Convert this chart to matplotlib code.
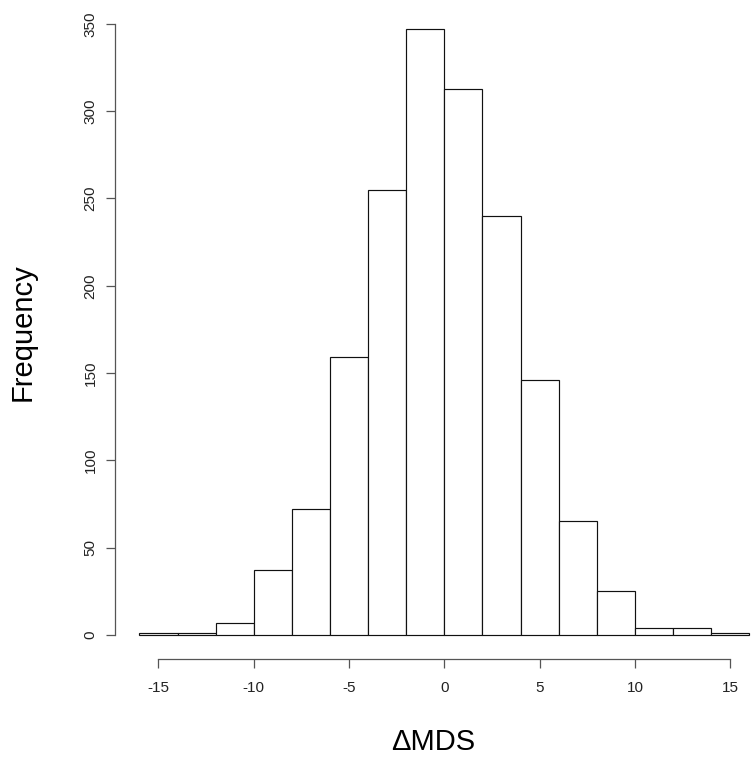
import numpy as np
import matplotlib.pyplot as plt

plt.rcParams['font.family'] = ['Liberation Sans', 'DejaVu Sans']

# histogram of delta MDS, bins of width 2 from -16 to 16
bin_edges = np.arange(-16, 17, 2)
counts = [1, 1, 7, 37, 72, 159, 255, 347, 313, 240, 146, 65, 25, 4, 4, 1]
xticks = [-15, -10, -5, 0, 5, 10, 15]
yticks = [0, 50, 100, 150, 200, 250, 300, 350]

fig = plt.figure(figsize=(7.52, 7.61), dpi=100)
ax = fig.add_axes([115 / 752, 102 / 761, 637 / 752, 654 / 761])

ax.bar(bin_edges[:-1], counts, width=2, align='edge',
       facecolor='white', edgecolor='#111111', linewidth=0.85)

# R-style axes with 4% padding
ax.set_xlim(-17.28, -17.28 + 637 / 19.06)
ax.set_ylim(-0.04 * max(counts), 1.04 * max(counts))

ax.spines['top'].set_visible(False)
ax.spines['right'].set_visible(False)
ax.spines['left'].set_bounds(yticks[0], yticks[-1])
ax.spines['bottom'].set_bounds(xticks[0], xticks[-1])
for s in ('left', 'bottom'):
    ax.spines[s].set_color('#555555')
    ax.spines[s].set_linewidth(0.9)

ax.set_xticks(xticks)
ax.set_yticks(yticks)
ax.set_xticklabels([str(t) for t in xticks])
ax.set_yticklabels([str(t) for t in yticks], rotation=90, va='center')
ax.tick_params(direction='out', length=6.5, width=0.9, color='#555555',
               labelsize=11, labelcolor='#222222')
ax.tick_params(axis='x', pad=9)
ax.tick_params(axis='y', pad=6)

ax.set_xlabel('ΔMDS', fontsize=21, labelpad=24)
ax.set_ylabel('Frequency', fontsize=21, labelpad=34)

fig.savefig('out.png', dpi=100)
